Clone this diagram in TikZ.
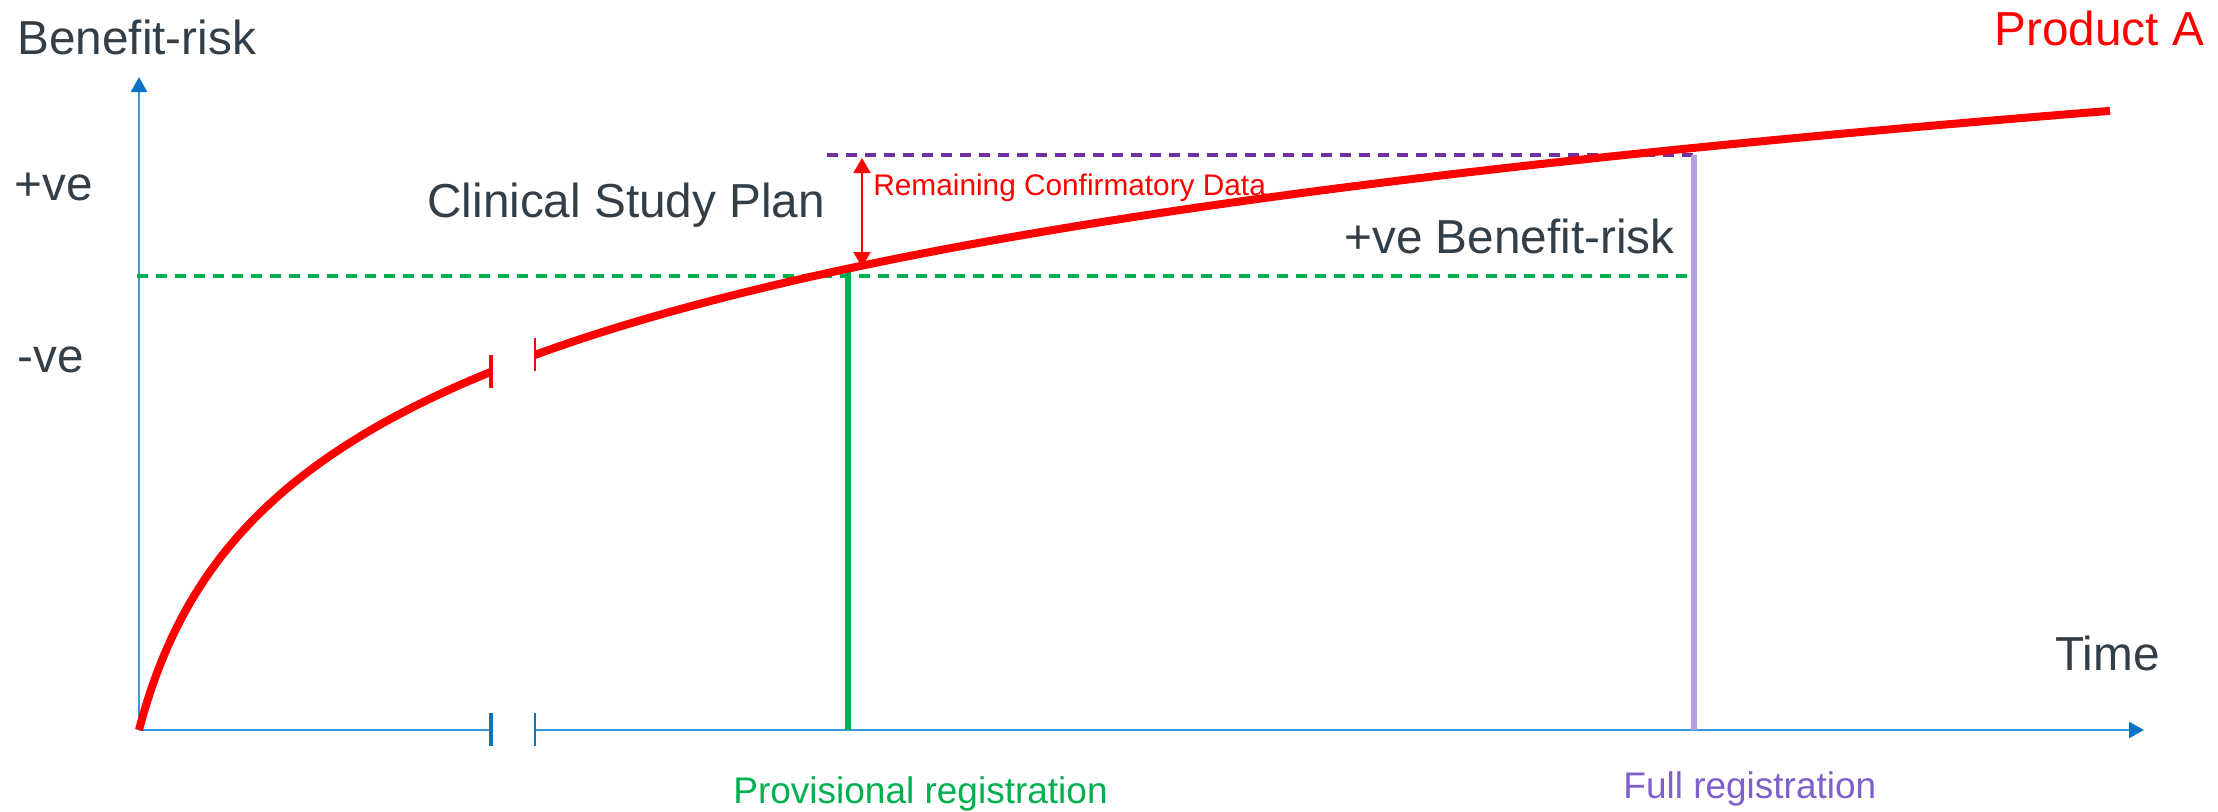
\documentclass[tikz,border=0pt]{standalone}
\usepackage{fontspec}
\setmainfont{Liberation Sans}
\usetikzlibrary{arrows.meta}
\definecolor{txt}{HTML}{333F48}
\definecolor{grn}{HTML}{00B050}
\definecolor{pdash}{HTML}{7030A0}
\definecolor{pline}{HTML}{B4A0E0}
\definecolor{ptxt}{HTML}{7F5FCB}
\definecolor{axl}{HTML}{3A9AD9}
\definecolor{axd}{HTML}{0A74C4}
\definecolor{rd}{HTML}{FF0000}
\begin{document}
\begin{tikzpicture}[x=0.5pt,y=-0.5pt,
  lbl/.style={anchor=base west, inner sep=0, font=\fontsize{23.85}{28}\selectfont, text=txt},
  reglbl/.style={anchor=base west, inner sep=0, font=\fontsize{18.5}{22}\selectfont},
  axisline/.style={draw=axl, line width=1.2pt},
  axisarrow/.style={axisline, -{Triangle[length=7.5pt,width=8pt,color=axd]}},
  gdash/.style={draw=grn, line width=1.8pt, dash pattern=on 5.5pt off 4pt},
  pdashed/.style={draw=pdash, line width=1.8pt, dash pattern=on 5.5pt off 4pt},
  curve/.style={draw=rd, line width=4pt},
  dblarrow/.style={draw=rd, line width=0.9pt, {Triangle[length=7.5pt,width=8.5pt]}-{Triangle[length=7.5pt,width=8.5pt]}}]
\useasboundingbox (0,0) rectangle (2218,811);
% axes
\coordinate (O) at (139,730);
\coordinate (Ytip) at (139,77);
\coordinate (Xtip) at (2144,730);
\coordinate (B1) at (491,730);
\coordinate (B2) at (535,730);
\coordinate (B1t) at (491,713);
\coordinate (B1b) at (491,746);
\coordinate (B2t) at (535,713);
\coordinate (B2b) at (535,746);
\draw[axisarrow] (O) -- (Ytip);
\draw[axisline] (O) -- (B1);
\draw[axisarrow] (B2) -- (Xtip);
\draw[draw=axd, line width=2pt] (B1t) -- (B1b);
\draw[draw=axd, line width=1pt] (B2t) -- (B2b);
% guide lines
\coordinate (G0) at (137,276);
\coordinate (G1) at (1694,276);
\coordinate (P0) at (827,155);
\coordinate (P1) at (1694,155);
\coordinate (Gv0) at (848,272);
\coordinate (Gv1) at (848,730);
\coordinate (Pv1) at (1694,730);
\draw[gdash] (G0) -- (G1);
\draw[pdashed] (P0) -- (P1);
\draw[draw=grn, line width=3pt] (Gv0) -- (Gv1);
\draw[draw=pline, line width=3pt] (P1) -- (Pv1);
% curve
\draw[curve] plot[domain=0:352, samples=160, smooth] ({139+\x},{730-160*ln(1+\x/42)});
\draw[curve] plot[domain=396:1971, samples=120, smooth] ({139+\x},{730-160*ln(1+\x/42)});
\coordinate (C1t) at (491,355);
\coordinate (C1b) at (491,388);
\coordinate (C2t) at (535,338);
\coordinate (C2b) at (535,371);
\draw[draw=rd, line width=2pt] (C1t) -- (C1b);
\draw[draw=rd, line width=1.2pt] (C2t) -- (C2b);
% remaining arrow
\coordinate (Ra) at (862,158);
\coordinate (Rb) at (862,267);
\draw[dblarrow] (Rb) -- (Ra);
% labels
\node[lbl] (benefit) at (17,54) {Benefit-risk};
\node[lbl] (pve) at (14,200) {+ve};
\node[lbl] (nve) at (17,372) {-ve};
\node[lbl] (csp) at (427,217) {Clinical Study Plan};
\node[lbl] (pvebr) at (1344,253) {+ve Benefit-risk};
\node[lbl, text=rd] (prodA) at (1994,45) {Product A};
\node[lbl] (time) at (2055,670) {Time};
\node[anchor=base west, inner sep=0, font=\fontsize{14.9}{18}\selectfont, text=rd] (rcd) at (873,195) {Remaining Confirmatory Data};
\node[reglbl, text=grn] (prov) at (733,803) {Provisional registration};
\node[reglbl, text=ptxt] (full) at (1623,798) {Full registration};
\end{tikzpicture}
\end{document}
